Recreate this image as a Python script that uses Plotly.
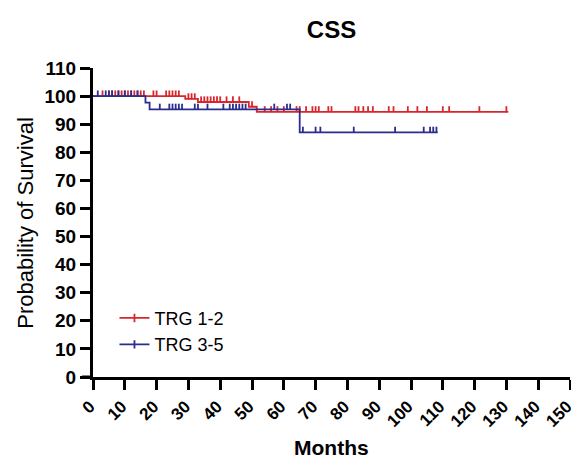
import numpy as np
import plotly.graph_objects as go

# ---------------- data ----------------
# TRG 1-2 (red): step changes (month, survival after the step), end of follow-up
red_step_times = [0, 29, 33, 49, 51.5]
red_step_surv = [100, 99.0, 97.9, 96.2, 94.4]
red_end = 130.6
red_censor = [3, 5, 6, 7, 8, 9, 10, 11, 12, 13, 14, 15, 16, 19, 20, 23, 24, 25,
              26, 27, 30, 31, 32, 34, 35, 36, 37, 38, 39, 40, 42, 44, 46, 50,
              54, 56, 58, 60, 64, 65, 67, 69, 70, 71, 74, 75, 82.5, 83.5, 85,
              86.5, 88, 93, 94.5, 99, 102, 105, 110, 112, 121.5, 130]

# TRG 3-5 (blue)
blue_step_times = [0, 16.5, 17.8, 65]
blue_step_surv = [100, 97.7, 95.3, 87.1]
blue_end = 108.4
blue_censor = [1.5, 4, 5, 6, 8, 10, 12, 14, 21, 24, 25, 26, 27, 28, 32, 33, 36,
               41, 43, 44, 45, 46, 47, 48, 57, 61, 62, 66, 70, 71.5, 82, 95,
               104, 106, 107, 108]

x_ticks = list(range(0, 151, 10))
y_ticks = list(range(0, 111, 10))

RED = "#d9262c"
BLUE = "#2b2e8c"
TICK_H = 2.0


def step_xy(times, surv, end):
    xs = list(times) + [end]
    ys = list(surv) + [surv[-1]]
    return xs, ys


def level_at(times, surv, t):
    idx = np.searchsorted(np.array(times), t, side="right") - 1
    return [surv[i] for i in idx]


fig = go.Figure()

for times, surv, end, cens, col, name in [
    (red_step_times, red_step_surv, red_end, red_censor, RED, "TRG 1-2"),
    (blue_step_times, blue_step_surv, blue_end, blue_censor, BLUE, "TRG 3-5"),
]:
    xs, ys = step_xy(times, surv, end)
    fig.add_trace(go.Scatter(x=xs, y=ys, mode="lines", line_shape="hv",
                             line=dict(color=col, width=1.8), showlegend=False,
                             hoverinfo="skip"))
    cy = level_at(times, surv, cens)
    fig.add_trace(go.Scatter(
        x=cens, y=cy, mode="markers", marker=dict(size=1, color=col),
        error_y=dict(type="data", symmetric=False, array=[TICK_H] * len(cens),
                     arrayminus=[0] * len(cens), width=0, thickness=1.8, color=col),
        showlegend=False))
    fig.add_trace(go.Scatter(x=[None], y=[None], mode="lines+markers", name=name,
                             line=dict(color=col, width=1.8),
                             marker=dict(symbol="line-ns-open", size=6,
                                         line=dict(color=col, width=1.8))))

x_font = dict(family="Liberation Sans, Arial", size=17, color="black", weight="bold")
y_font = dict(family="Liberation Sans, Arial", size=19, color="black", weight="bold")

# page body has an 8px margin, so the figure is drawn 8px in from the top-left
fig.update_layout(
    width=571, height=451,
    margin=dict(l=85, r=9, t=60, b=82),
    plot_bgcolor="white", paper_bgcolor="white",
    title=dict(text="<b>CSS</b>", x=0.5, xref="paper", xanchor="center",
               y=(451 - 22) / 451, yanchor="middle",
               font=dict(family="Liberation Sans, Arial", size=24, color="black")),
    xaxis=dict(range=[0, 150], tickvals=x_ticks, ticktext=[str(v) for v in x_ticks],
               tickangle=-45, showgrid=False, zeroline=False, showline=True,
               linecolor="black", linewidth=3, ticks="outside", ticklen=10,
               tickwidth=3, tickcolor="black", tickfont=x_font,
               ticklabeloverflow="allow", ticklabelshift=-3, automargin=False),
    yaxis=dict(range=[0, 110], tickvals=y_ticks, ticktext=[str(v) for v in y_ticks],
               showgrid=False, zeroline=False, showline=True,
               linecolor="black", linewidth=3, ticks="outside", ticklen=10,
               tickwidth=3, tickcolor="black", tickfont=y_font, automargin=False),
    legend=dict(x=0.045, y=0.25, xanchor="left", yanchor="top",
                bgcolor="rgba(0,0,0,0)", tracegroupgap=8,
                font=dict(family="Liberation Sans, Arial", size=18, color="black"),
                itemwidth=30),
    annotations=[
        dict(text="Probability of Survival", textangle=-90, xref="paper", yref="paper",
             x=-0.142, y=0.5, xanchor="center", yanchor="middle", showarrow=False,
             font=dict(family="Liberation Sans, Arial", size=22, color="black")),
        dict(text="<b>Months</b>", xref="paper", yref="paper", x=0.5, y=-0.228,
             xanchor="center", yanchor="middle", showarrow=False,
             font=dict(family="Liberation Sans, Arial", size=21, color="black")),
    ],
    shapes=[
        dict(type="line", xref="paper", yref="paper", x0=-11 / 480, x1=0, y0=0, y1=0,
             line=dict(color="black", width=3)),
    ],
)

fig.write_html("out.html")
